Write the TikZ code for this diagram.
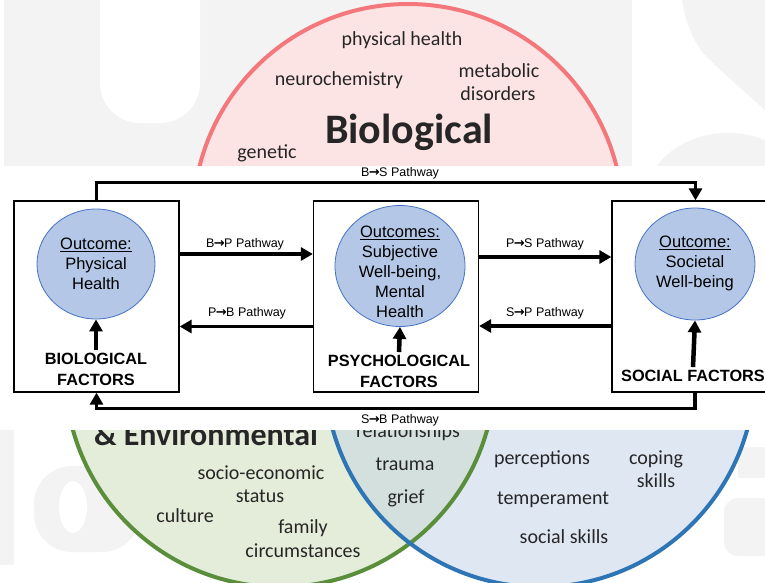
\documentclass[tikz,border=0pt]{standalone}
\usepackage{fontspec}
\setmainfont{Liberation Sans}
\newfontfamily\calib{Carlito}
\newfontfamily\arrfont{DejaVu Sans}
\newcommand{\parr}{{\arrfont\bfseries\fontsize{13}{13}\selectfont\kern-0.5pt→\kern-0.5pt}}
\usetikzlibrary{arrows.meta,shapes.geometric}
\definecolor{wm}{HTML}{F3F3F3}
\definecolor{pinkfill}{HTML}{FDE4E4}
\definecolor{pinkline}{HTML}{F4777B}
\definecolor{greenfill}{HTML}{E4EDDA}
\definecolor{greenline}{HTML}{5A8E3A}
\definecolor{bluefill}{HTML}{DFE7F3}
\definecolor{blueline}{HTML}{2E75B6}
\definecolor{ovl}{HTML}{D4E0DD}
\definecolor{txt}{HTML}{262626}
\definecolor{ellfill}{HTML}{B4C7E7}
\definecolor{ellline}{HTML}{4472C4}
\begin{document}
\begin{tikzpicture}[x=1pt,y=-1pt,
  vt/.style={font=\calib\fontsize{20}{24}\selectfont, text=txt, anchor=base, inner sep=0pt},
  vbig/.style={font=\calib\bfseries\fontsize{42}{48}\selectfont, text=txt, anchor=base, inner sep=0pt},
  fbox/.style={draw=black, line width=1.3pt, fill=white, minimum width=165pt, minimum height=191pt, inner sep=0pt},
  ell/.style={ellipse node, fill=ellfill, draw=ellline, line width=0.8pt},
  etext/.style={font=\fontsize{16.5}{20}\selectfont, align=center, inner sep=0pt},
  ftext/.style={font=\bfseries\fontsize{16.3}{21}\selectfont, align=center, inner sep=1pt},
  plabel/.style={font=\fontsize{12.5}{14}\selectfont, inner sep=0pt},
  arr/.style={line width=3.5pt, -{Triangle[length=12pt,width=13pt]}},
  uparr/.style={line width=4.5pt, -{Triangle[length=12pt,width=13pt]}},
  ellipse node/.style={shape=ellipse, inner sep=0pt}
]
\useasboundingbox (0,0) rectangle (765,582);
\fill[white] (0,0) rectangle (765,582);
% watermark
\fill[wm] (4,0) rectangle (632,166);
\fill[white, rounded corners=40pt] (100,-60) -- (100,123) -- (200,123) -- (200,-60) -- cycle;
\fill[wm] (682,0) .. controls (686,25) and (695,45) .. (707,57) .. controls (725,75) and (745,92) .. (765,110) -- (765,0) -- cycle;
\fill[wm] (728,205) ellipse[x radius=85, y radius=72];
\fill[wm] (0,430) rectangle (14,565);
\fill[wm, rounded corners=38pt] (34,466) rectangle (140,552);
\fill[white] (73,507) ellipse[x radius=14, y radius=26];
\fill[wm] (738,447) rectangle (765,478);
\fill[wm, rounded corners=14pt] (724,498) rectangle (790,556);
% Venn circles
\fill[greenfill] (280,372) circle[radius=215];
\fill[bluefill] (540,372) circle[radius=215];
\begin{scope}
  \clip (280,372) circle[radius=215];
  \fill[ovl] (540,372) circle[radius=215];
\end{scope}
\draw[greenline, line width=4pt] (280,372) circle[radius=215];
\draw[blueline, line width=4pt] (540,372) circle[radius=215];
\begin{scope}
  \clip (0,0) rectangle (765,167);
  \fill[pinkfill] (408,219) circle[radius=215];
  \draw[pinkline, line width=4pt] (408,219) circle[radius=215];
\end{scope}
% Venn texts
\node[vt] (t1) at (402,45) {physical health};
\node[vt] (t2) at (339,85) {neurochemistry};
\node[vt] (t3) at (499,77) {metabolic};
\node[vt] (t4) at (498,100) {disorders};
\node[vbig] (t5) at (409,143) {Biological};
\node[vt] (t6) at (267,158) {genetic};
\node[font=\calib\bfseries\fontsize{32}{36}\selectfont, text=txt, anchor=base, inner sep=0pt] (t7) at (206,445) {\& Environmental};
\node[vt] (t8) at (408,437) {relationships};
\node[vt] (t9) at (405,470) {trauma};
\node[vt] (t10) at (406,503) {grief};
\node[vt] (t11) at (261,479) {socio-economic};
\node[vt] (t12) at (260,502) {status};
\node[vt] (t13) at (185,522) {culture};
\node[vt] (t14) at (303,533) {family};
\node[vt] (t15) at (303,557) {circumstances};
\node[vt] (t16) at (542,464) {perceptions};
\node[vt] (t17) at (656,464) {coping};
\node[vt] (t18) at (656,487) {skills};
\node[vt] (t19) at (553,504) {temperament};
\node[vt] (t20) at (564,543) {social skills};
% overlay
\fill[white] (0,166) rectangle (765,430);
% boxes
\node[fbox] (bbox) at (96.5,296.5) {};
\node[fbox] (pbox) at (396,296.5) {};
\node[fbox, minimum width=164pt] (sbox) at (694,296.5) {};
% ellipses
\node[ell, minimum width=118pt, minimum height=110pt] (be) at (96,264) {};
\node[ell, minimum width=130pt, minimum height=121pt] (pe) at (400,266) {};
\node[ell, minimum width=120pt, minimum height=112pt] (se) at (695,264) {};
\node[etext] (bet) at (96,263.5) {\underline{Outcome:}\\Physical\\Health};
\node[etext] (pet) at (400,271.5) {\underline{Outcomes:}\\Subjective\\Well-being,\\Mental\\Health};
\node[etext] (set) at (695,263.5) {\underline{Outcome:}\\Societal\\Well-being};
% factor labels
\node[ftext] (bf) at (96,369.5) {BIOLOGICAL\\FACTORS};
\node[ftext] (pf) at (399,371.5) {PSYCHOLOGICAL\\FACTORS};
\node[ftext] (sf) at (693,376) {SOCIAL FACTORS};
\draw[uparr] ([yshift=2pt]bf.north) -- (be.south);
\draw[uparr] ([yshift=2pt]pf.north) -- (pe.south);
\draw[uparr] ([yshift=2pt]sf.north) -- (se.south);
% horizontal pathways
\draw[arr] ([yshift=42.5pt]bbox.east) -- ([yshift=42.5pt]pbox.west);
\draw[arr] ([yshift=-30pt]pbox.west) -- ([yshift=-30pt]bbox.east);
\draw[arr] ([yshift=39.5pt]pbox.east) -- ([yshift=39.5pt]sbox.west);
\draw[arr] ([yshift=-29.5pt]sbox.west) -- ([yshift=-29.5pt]pbox.east);
\node[plabel] (l1) at (245,244) {B\parr P Pathway};
\node[plabel] (l2) at (247,313) {P\parr B Pathway};
\node[plabel] (l3) at (545,244) {P\parr S Pathway};
\node[plabel] (l4) at (545,313) {S\parr P Pathway};
% outer pathways
\draw[arr] (bbox.north) -- ++(0,-18) -| ([xshift=1.5pt]sbox.north);
\draw[arr] ([xshift=1pt]sbox.south) -- ++(0,16) -| (bbox.south);
\node[plabel] (l5) at (400,173) {B\parr S Pathway};
\node[plabel] (l6) at (400,420) {S\parr B Pathway};
\end{tikzpicture}
\end{document}
